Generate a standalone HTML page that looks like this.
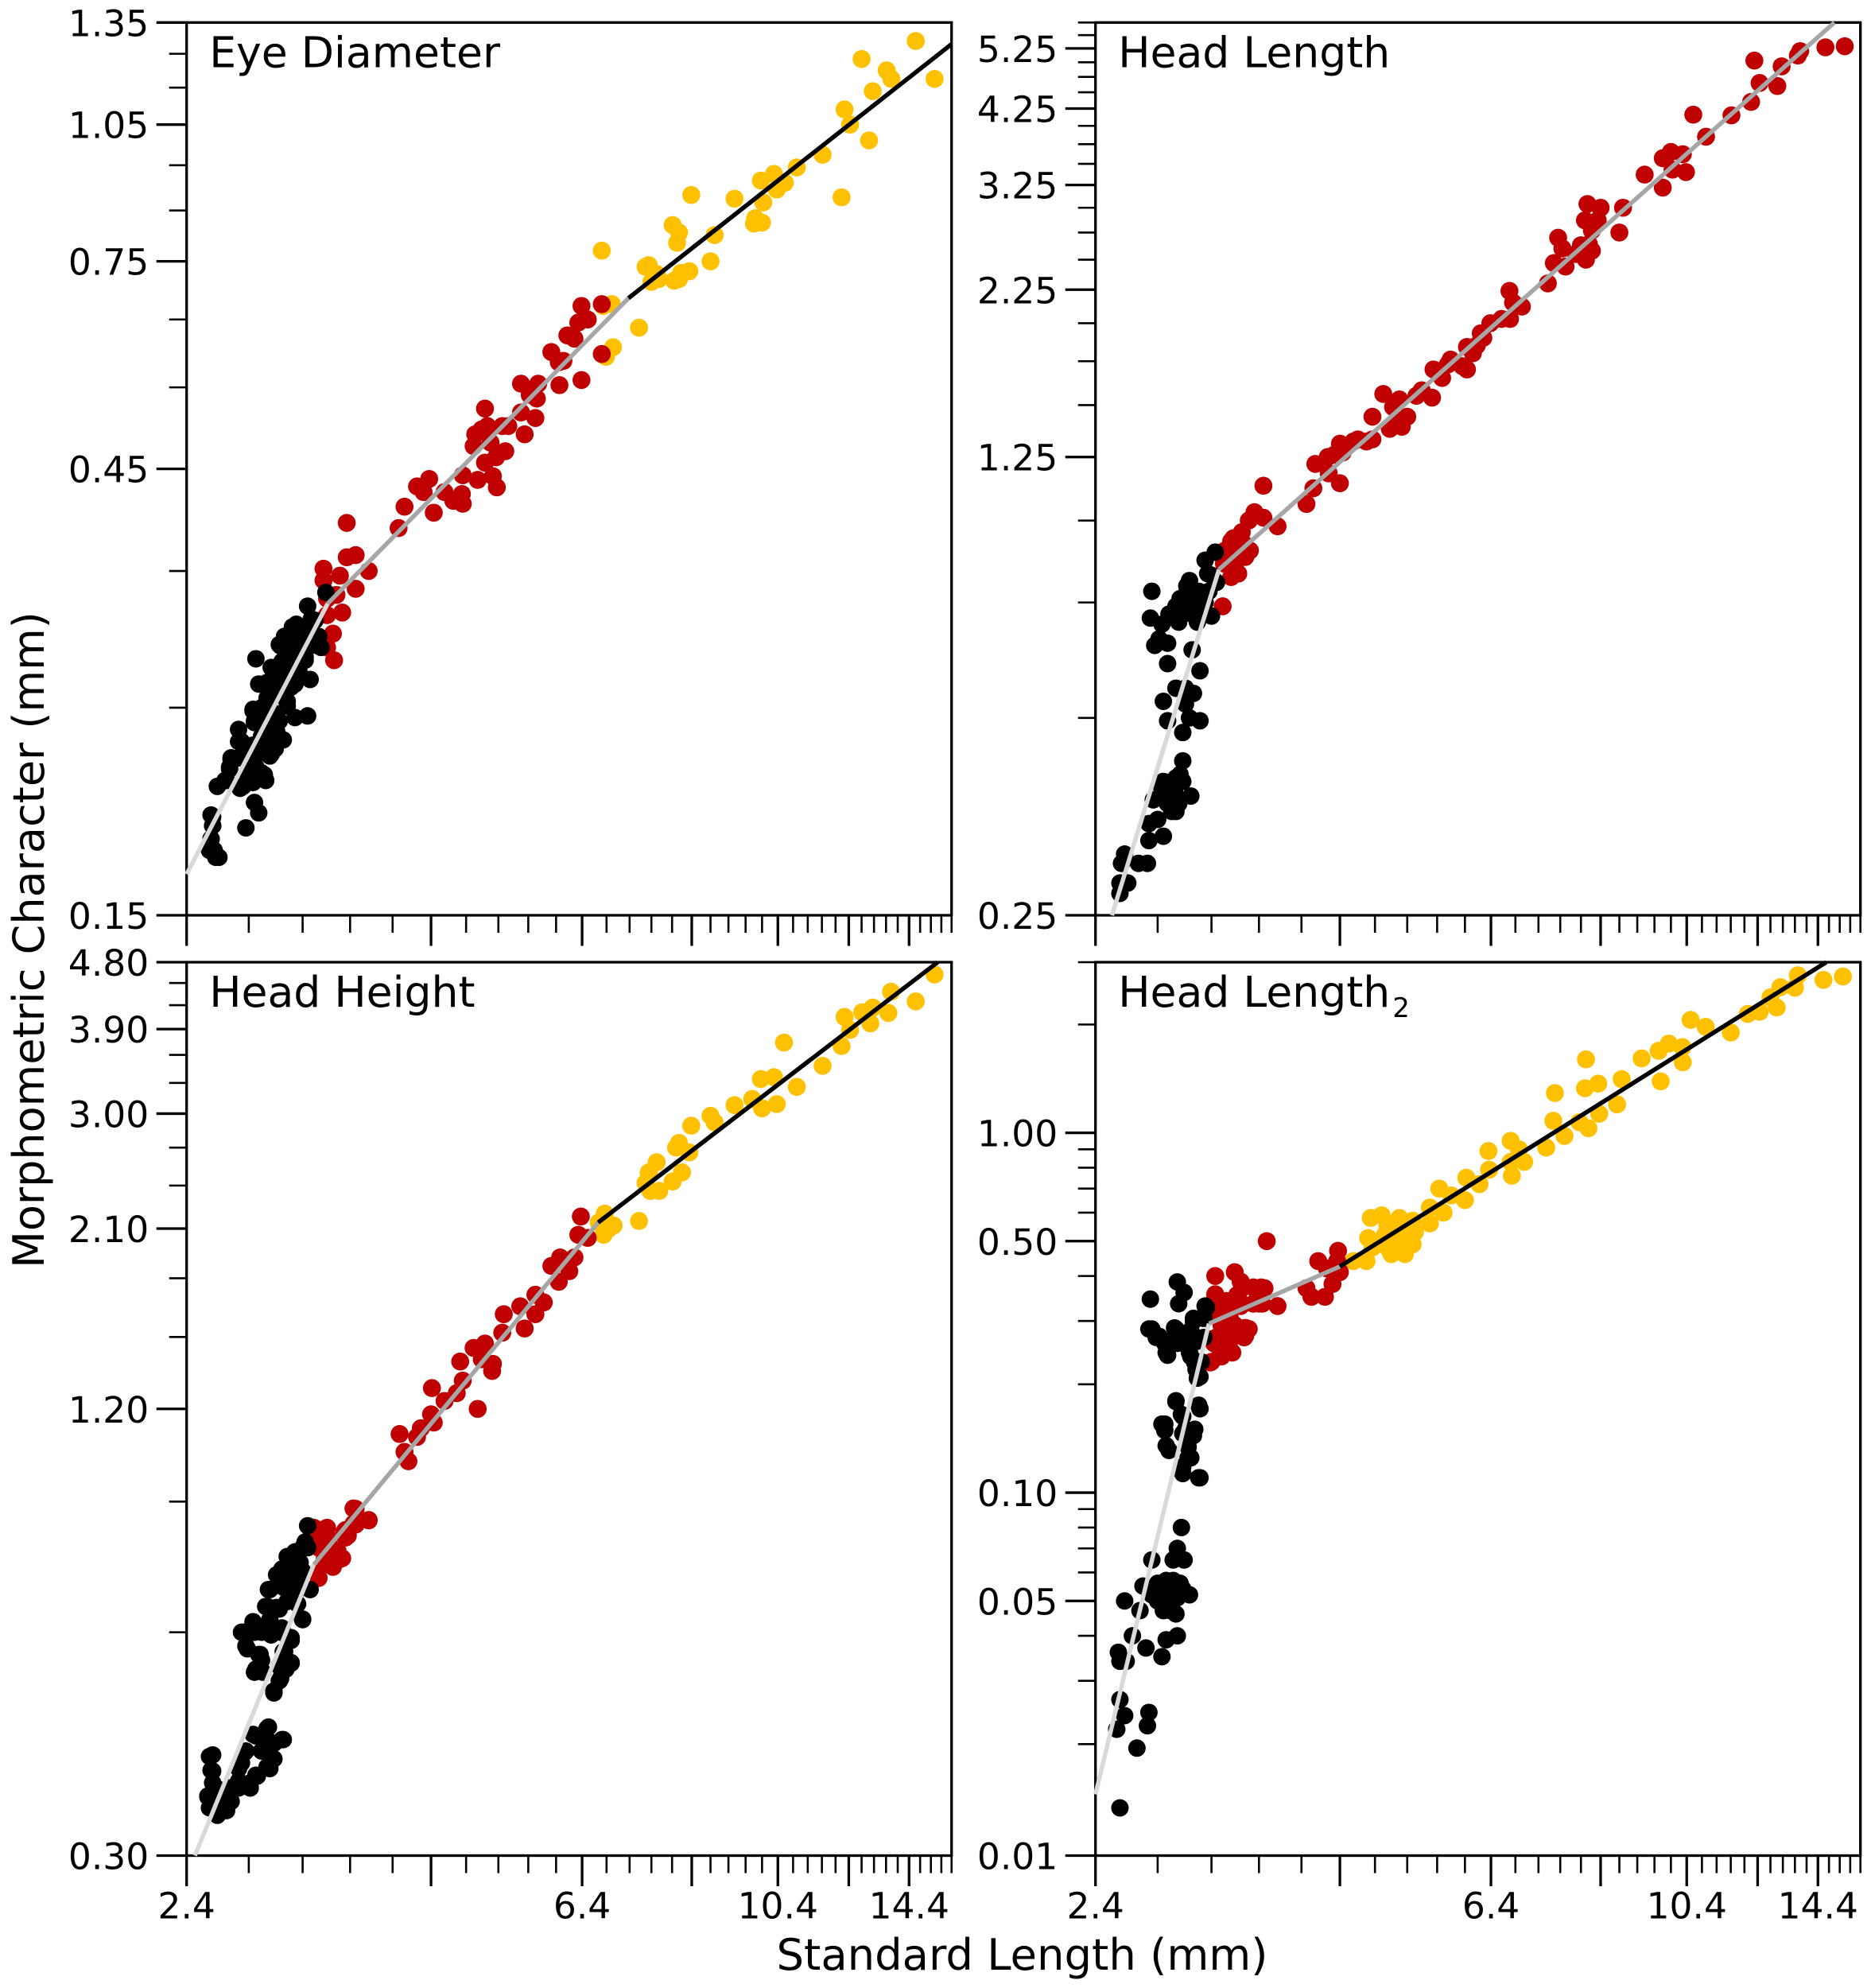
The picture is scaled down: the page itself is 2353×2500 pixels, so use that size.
<!DOCTYPE html>
<html lang="en">
<head>
<meta charset="utf-8">
<title>Morphometric Character vs Standard Length</title>
<style>
html,body{margin:0;padding:0;background:#fff;}
#chart{display:block;width:2353px;height:2500px;font-family:"DejaVu Sans","Liberation Sans",sans-serif;fill:#000;}
</style>
</head>
<body>
<svg id="chart" xmlns="http://www.w3.org/2000/svg" width="2353" height="2500" viewBox="0 0 2353 2500">
<rect x="0" y="0" width="2353" height="2500" fill="#fff"></rect>
<text x="1285.5" y="2477" font-size="54.4" text-anchor="middle">Standard Length (mm)</text>
<text transform="translate(55 1182) rotate(-90)" font-size="54" text-anchor="middle">Morphometric Character (mm)</text>
</svg>
<script>
/* ---- shared x axis ---- */
const xMajorTicks = [2.4,4.4,6.4,8.4,10.4,12.4,14.4];
const xMinorTicks = [2.8,3.2,3.6,4.0,4.8,5.2,5.6,6.0,6.8,7.2,7.6,8.0,8.8,9.2,9.6,10.0,10.8,11.2,11.6,12.0,12.8,13.2,13.6,14.0,14.8,15.2,15.6,16.0];
const xTickLabels = [2.4,6.4,10.4,14.4];

/* ---- Eye Diameter ---- */
const eyeYMajor = [0.15,0.45,0.75,1.05,1.35];
const eyeYMinor = [0.25,0.35,0.55,0.65,0.85,0.95,1.15,1.25];
const eyeYLabels = [0.15,0.45,0.75,1.05,1.35];
const eyeBlack = [[3.39,.332],[3.24,.321],[3.15,.307],[3.06,.298],[3.03,.291],[2.85,.282],[3.2,.296],[3.26,.291],[3.33,.291],[3.22,.281],[3.08,.279],[2.99,.272],[2.87,.265],[3.26,.268],[3.11,.263],[3.02,.258],[2.93,.255],[3.08,.251],[2.83,.249],[2.84,.241],[3.24,.245],[3.14,.244],[3.0,.243],[2.93,.24],[2.73,.237],[2.89,.233],[2.75,.23],[3.05,.231],[2.99,.226],[2.96,.223],[2.68,.22],[2.81,.219],[2.67,.215],[2.85,.216],[2.89,.213],[2.92,.209],[2.59,.206],[2.65,.209],[2.76,.206],[2.83,.208],[2.84,.198],[2.87,.193],[2.78,.186],[2.56,.191],[2.56,.187],[2.55,.181],[2.55,.176],[2.6,.173],[2.57,.176],[3.17,.274],[3.11,.30],[3.22,.305],[2.93,.266],[2.83,.228],[3.05,.268],[3.1,.287],[3.24,.30],[3.0,.236],[3.3,.31],[2.96,.276],[2.89,.25],[2.79,.213],[2.75,.222],[3.06,.298],[3.12,.305],[3.18,.303],[3.27,.311],[3.02,.292],[3.12,.295],[3.2,.292],[3.33,.298],[3.35,.29],[3.22,.283],[3.14,.285],[3.04,.28],[2.98,.274],[3.08,.274],[3.02,.267],[2.96,.263],[3.1,.263],[3.14,.265],[2.93,.256],[3.02,.258],[3.08,.254],[2.83,.248],[2.84,.242],[2.96,.248],[2.93,.242],[3.02,.242],[2.96,.233],[3.04,.231],[2.93,.226],[2.95,.222],[2.73,.23],[2.68,.221],[2.67,.216],[2.73,.221],[2.84,.221],[2.79,.212],[2.91,.212],[2.74,.205],[2.64,.209],[2.55,.192],[2.56,.187],[2.55,.181],[2.54,.176],[2.58,.173]];
const eyeRed = [[6.72,.675],[6.39,.672],[6.49,.65],[6.34,.645],[6.17,.625],[6.28,.62],[5.93,.60],[6.72,.597],[6.04,.585],[6.11,.587],[6.39,.56],[5.5,.555],[5.74,.555],[6.05,.553],[5.62,.54],[5.72,.535],[5.5,.517],[5.7,.51],[5.03,.522],[5.25,.50],[5.33,.50],[5.06,.50],[4.91,.49],[5.55,.49],[4.99,.496],[4.89,.476],[5.1,.48],[5.29,.47],[5.17,.463],[5.03,.457],[4.76,.443],[4.94,.438],[5.13,.442],[5.18,.43],[4.38,.439],[4.25,.431],[4.32,.425],[4.55,.425],[4.75,.423],[4.65,.416],[4.76,.413],[4.43,.404],[4.12,.41],[4.06,.389],[3.57,.394],[3.57,.362],[3.65,.364],[3.37,.352],[3.51,.346],[3.77,.35],[3.37,.342],[3.65,.335],[3.48,.33],[3.4,.327],[3.53,.316],[3.4,.314],[3.45,.30],[3.4,.29],[3.46,.281]];
const eyeYellow = [[14.64,1.29],[12.8,1.234],[13.62,1.20],[13.78,1.175],[15.34,1.175],[13.16,1.14],[12.27,1.09],[12.44,1.05],[13.04,1.01],[11.62,.975],[10.9,.945],[10.3,.93],[9.97,.915],[10.58,.91],[10.37,.895],[10.03,.867],[8.39,.883],[9.34,.875],[12.18,.878],[9.83,.834],[9.8,.823],[10.0,.825],[8.89,.80],[8.01,.82],[8.14,.805],[8.1,.785],[8.8,.75],[6.72,.77],[7.55,.743],[7.49,.74],[7.7,.727],[7.6,.713],[7.74,.718],[8.35,.732],[8.18,.729],[8.04,.715],[8.14,.718],[6.89,.675],[6.74,.672],[7.37,.637],[6.91,.607],[6.79,.593]];
const eyeFitLight = [[2.4,.166],[3.405,.323]];
const eyeFitGrey = [[3.405,.323],[7.18,.685]];
const eyeFitBlack = [[7.18,.685],[16,1.28]];

/* ---- Head Length ---- */
const hlYMajor = [0.25,1.25,2.25,3.25,4.25,5.25];
const hlYMinor = [0.5,0.75,1.0,1.5,1.75,2.0,2.5,2.75,3.0,3.5,3.75,4.0,4.5,4.75,5.0,5.5,5.75];
const hlYLabels = [0.25,1.25,2.25,3.25,4.25,5.25];
const hlBlack = [[3.23,.895],[3.15,.87],[3.03,.81],[3.01,.795],[3.2,.825],[3.24,.805],[2.96,.76],[2.93,.74],[3.0,.735],[3.11,.765],[3.15,.75],[3.2,.715],[3.09,.70],[2.95,.70],[2.76,.78],[2.75,.71],[2.83,.695],[2.81,.66],[2.78,.645],[2.87,.65],[3.05,.635],[2.87,.605],[3.11,.59],[2.93,.555],[3.0,.555],[3.06,.545],[2.84,.53],[3.0,.525],[2.87,.495],[3.03,.5],[3.11,.495],[2.98,.475],[2.98,.43],[2.84,.40],[2.93,.405],[2.98,.40],[3.04,.38],[2.77,.375],[2.89,.38],[2.93,.36],[2.87,.37],[2.8,.35],[2.74,.345],[2.84,.33],[2.74,.325],[2.73,.30],[2.67,.30],[2.58,.31],[2.56,.30],[2.55,.28],[2.6,.28],[2.55,.27],[2.88,.395],[2.92,.385],[2.95,.37],[2.9,.36],[2.83,.39],[2.96,.41],[3.17,.83],[3.1,.78],[3.05,.75],[3.12,.72],[3.18,.78],[3.0,.77],[2.88,.72],[3.05,.72]];
const hlRed = [[15.39,5.29],[14.67,5.27],[12.3,5.03],[13.78,5.2],[13.7,5.12],[13.16,4.93],[12.46,4.65],[13.02,4.6],[12.2,4.35],[10.57,4.16],[11.62,4.15],[10.91,3.85],[10.3,3.62],[10.0,3.65],[9.8,3.57],[10.38,3.4],[10.04,3.43],[9.8,3.22],[9.37,3.37],[8.88,3.0],[8.13,3.04],[8.4,3.0],[8.08,2.87],[8.34,2.87],[8.22,2.77],[8.8,2.75],[7.56,2.7],[7.64,2.6],[8.0,2.63],[8.22,2.58],[8.1,2.5],[7.48,2.47],[7.7,2.44],[7.37,2.3],[6.7,2.24],[6.76,2.15],[6.91,2.12],[6.71,2.03],[6.39,2.0],[6.24,1.93],[6.03,1.84],[6.18,1.85],[5.75,1.73],[6.03,1.7],[5.55,1.7],[5.67,1.65],[5.96,1.72],[5.32,1.55],[5.53,1.54],[4.9,1.56],[5.1,1.53],[4.77,1.44],[4.98,1.38],[5.13,1.39],[5.2,1.44],[4.77,1.33],[4.7,1.32],[4.55,1.32],[4.4,1.31],[4.43,1.27],[4.27,1.25],[4.14,1.22],[4.4,1.14],[4.28,1.18],[4.12,1.12],[4.05,1.06],[3.64,1.13],[3.56,1.03],[3.51,1.0],[3.64,1.01],[3.77,.98],[3.44,.95],[3.36,.93],[3.52,.9],[3.44,.88],[3.39,.855],[3.36,.82],[3.29,.74],[3.31,.9],[3.47,.92],[5.02,1.49],[5.09,1.44],[5.39,1.58],[5.79,1.76],[6.12,1.8],[6.28,1.9],[6.57,2.03],[8.16,2.64],[7.9,2.55],[4.34,1.26],[4.6,1.33],[3.35,.88],[3.4,.9],[3.45,.96],[3.38,.94],[3.48,.88],[3.42,.83],[3.3,.86]];
const hlFitLight = [[2.5,.25],[3.26,.842]];
const hlFitGrey = [[3.26,.842],[15.0,5.75]];

/* ---- Head Height ---- */
const hhYMajor = [0.30,1.20,2.10,3.00,3.90,4.80];
const hhYMinor = [0.6,0.9,1.5,1.8,2.4,2.7,3.3,3.6,4.2,4.5];
const hhYLabels = [0.30,1.20,2.10,3.00,3.90,4.80];
const hhBlack = [[3.24,.835],[3.24,.78],[3.14,.765],[3.07,.73],[3.03,.72],[3.11,.72],[3.2,.725],[2.94,.685],[3.26,.685],[3.05,.69],[3.17,.705],[2.92,.65],[3.02,.645],[3.2,.625],[2.83,.62],[2.76,.6],[2.89,.6],[2.96,.595],[3.03,.6],[3.11,.585],[2.79,.57],[2.87,.56],[2.89,.55],[3.05,.565],[3.11,.545],[3.07,.535],[2.85,.535],[2.9,.53],[3.03,.52],[2.98,.5],[3.05,.43],[2.93,.445],[2.85,.435],[2.98,.425],[2.89,.415],[2.98,.405],[2.78,.415],[2.93,.395],[2.85,.385],[2.75,.4],[2.81,.37],[2.73,.37],[2.56,.41],[2.56,.39],[2.67,.37],[2.57,.37],[2.55,.36],[2.54,.348],[2.61,.352],[2.68,.355],[2.59,.34],[2.65,.345],[2.53,.36],[3.08,.759],[3.14,.77],[3.2,.78],[3.22,.794],[3.04,.73],[3.12,.736],[3.18,.745],[3.08,.705],[3.14,.705],[3.2,.717],[3.0,.717],[3.16,.684],[3.08,.66],[3.16,.655],[2.95,.685],[2.93,.65],[3.0,.648],[3.2,.624],[2.95,.624],[2.83,.618],[2.75,.60],[2.84,.60],[2.95,.597],[3.04,.608],[3.11,.59],[2.78,.575],[2.88,.56],[3.06,.565],[3.11,.546],[2.84,.53],[3.02,.54],[3.02,.516],[2.98,.497],[2.94,.447],[2.83,.437],[3.04,.43],[2.93,.43],[2.77,.413],[2.96,.403],[2.95,.393],[2.86,.384],[2.73,.393],[2.73,.378],[2.81,.376],[2.54,.408],[2.55,.391],[2.56,.376],[2.53,.361],[2.66,.357],[2.58,.35],[2.59,.369]];
const hhRed = [[6.38,2.18],[6.34,2.06],[6.49,2.04],[6.28,1.92],[6.06,1.92],[5.93,1.87],[6.2,1.84],[6.04,1.78],[5.7,1.71],[5.82,1.67],[5.49,1.65],[5.27,1.61],[5.7,1.61],[5.55,1.54],[5.25,1.52],[5.03,1.47],[4.89,1.45],[4.99,1.4],[4.73,1.39],[5.13,1.38],[5.12,1.35],[4.76,1.31],[4.69,1.26],[4.41,1.28],[4.55,1.23],[4.94,1.2],[4.4,1.18],[4.43,1.15],[4.29,1.13],[4.07,1.11],[4.25,1.1],[4.12,1.05],[4.16,1.02],[3.65,.88],[3.77,.85],[3.63,.84],[3.55,.82],[3.4,.83],[3.29,.83],[3.58,.81],[3.37,.795],[3.49,.765],[3.44,.745],[3.53,.755],[3.32,.72],[3.33,.78],[3.42,.77],[3.29,.795],[3.35,.824],[3.4,.81],[3.56,.824],[3.63,.881],[3.77,.849],[3.56,.805],[3.49,.772],[3.51,.753],[3.45,.735],[3.33,.71],[3.38,.753],[3.42,.785],[3.65,.838],[3.31,.79]];
const hhYellow = [[15.34,4.62],[13.77,4.38],[14.64,4.25],[13.16,4.17],[12.82,4.11],[13.68,4.1],[12.27,4.05],[13.08,3.97],[12.44,3.89],[12.18,3.7],[10.56,3.74],[11.62,3.48],[9.97,3.34],[10.3,3.36],[10.9,3.26],[9.76,3.14],[10.0,3.05],[10.37,3.09],[9.34,3.08],[8.8,2.98],[8.89,2.92],[8.39,2.89],[8.14,2.74],[8.08,2.7],[8.35,2.66],[7.7,2.58],[7.55,2.5],[7.49,2.42],[8.2,2.5],[8.01,2.43],[7.58,2.36],[7.75,2.36],[7.37,2.15],[6.77,2.2],[6.67,2.14],[6.92,2.12],[6.84,2.1],[6.75,2.06]];
const hhFitLight = [[2.45,.30],[3.29,.74]];
const hhFitGrey = [[3.29,.74],[6.66,2.14]];
const hhFitBlack = [[6.66,2.14],[15.46,4.8]];

/* ---- Head Length 2 ---- */
const hl2YMajor = [0.0098,0.05,0.10,0.50,1.00];
const hl2YMinor = [0.02,0.03,0.04,0.06,0.07,0.08,0.09,0.2,0.3,0.4,0.6,0.7,0.8,0.9,2.0,2.98];
const hl2YLabels = [0.0098,0.05,0.10,0.50,1.00];
const hl2Black = [[2.94,.385],[2.99,.36],[2.75,.345],[2.95,.335],[3.15,.33],[3.06,.3],[2.74,.285],[2.93,.285],[2.79,.27],[2.94,.26],[3.05,.265],[2.85,.26],[2.86,.245],[3.03,.245],[3.14,.27],[3.07,.23],[3.11,.21],[2.93,.18],[3.1,.175],[2.97,.165],[2.83,.155],[3.0,.15],[3.07,.15],[2.86,.135],[3.02,.125],[2.98,.118],[3.1,.11],[2.97,.08],[2.94,.07],[2.76,.065],[2.91,.065],[2.99,.065],[2.7,.055],[2.78,.053],[2.86,.057],[2.96,.056],[3.03,.052],[2.81,.05],[2.89,.052],[2.93,.046],[2.84,.047],[2.58,.05],[2.68,.047],[2.63,.04],[2.94,.04],[2.86,.039],[2.72,.037],[2.54,.036],[2.55,.034],[2.59,.034],[2.83,.035],[2.55,.0266],[2.74,.0245],[2.58,.024],[2.73,.0225],[2.53,.022],[2.66,.0195],[2.55,.0133],[2.82,.052],[2.91,.057],[2.76,.052],[2.87,.049],[3.16,.327],[3.06,.305],[3.14,.305],[2.92,.287],[2.76,.285],[2.81,.272],[2.87,.263],[2.87,.241],[2.94,.263],[3.04,.283],[3.08,.263],[3.04,.239],[3.12,.231],[3.08,.22],[3.09,.208],[3.04,.27],[3.0,.27],[2.93,.179],[3.11,.171],[2.98,.163],[2.85,.155],[2.85,.149],[2.98,.146],[3.06,.144],[2.88,.131],[3.04,.125],[2.98,.113],[3.11,.11],[3.02,.134],[2.8,.056],[2.84,.055],[2.88,.056],[2.92,.055],[2.8,.05],[2.85,.051],[2.9,.05],[2.94,.051],[2.85,.048],[2.89,.047],[2.82,.054],[2.98,.054]];
const hl2Red = [[3.67,.5],[4.38,.47],[4.17,.44],[4.37,.44],[4.26,.42],[4.4,.41],[4.32,.38],[4.05,.37],[4.1,.35],[4.24,.35],[3.23,.4],[3.39,.41],[3.45,.37],[3.56,.37],[3.65,.37],[3.23,.35],[3.77,.33],[3.6,.335],[3.45,.335],[3.33,.335],[3.22,.32],[3.35,.305],[3.51,.285],[3.47,.27],[3.35,.28],[3.25,.265],[3.37,.245],[3.27,.24],[3.19,.23],[3.22,.26],[3.33,.255],[3.39,.28],[3.23,.356],[3.32,.341],[3.41,.354],[3.24,.324],[3.35,.319],[3.44,.33],[3.28,.292],[3.39,.292],[3.48,.287],[3.48,.273],[3.37,.27],[3.27,.251],[3.36,.247],[3.2,.231],[3.28,.239],[3.55,.372],[3.62,.372],[3.44,.386],[3.55,.335],[3.63,.335],[3.2,.267],[3.24,.27],[3.33,.263]];
const hl2Yellow = [[15.32,2.72],[14.6,2.66],[13.7,2.74],[13.12,2.54],[13.6,2.53],[12.8,2.38],[13.0,2.23],[12.46,2.17],[12.1,2.14],[10.5,2.06],[10.9,1.97],[11.6,1.9],[10.29,1.73],[9.95,1.77],[9.7,1.69],[10.3,1.57],[9.3,1.61],[9.75,1.39],[8.1,1.6],[8.85,1.41],[8.35,1.37],[8.08,1.33],[8.75,1.2],[8.37,1.13],[7.5,1.29],[8.15,1.03],[7.97,1.07],[7.47,1.08],[7.68,.98],[7.34,.91],[6.72,.95],[6.36,.89],[6.86,.9],[6.95,.83],[6.72,.83],[6.74,.76],[6.37,.79],[6.22,.72],[6.02,.75],[6.0,.65],[5.8,.67],[5.63,.7],[5.5,.62],[5.69,.6],[5.5,.56],[5.27,.57],[5.1,.58],[4.88,.59],[4.75,.58],[4.72,.51],[4.92,.52],[5.14,.52],[5.3,.53],[5.27,.49],[4.98,.47],[5.17,.46],[5.0,.46],[5.08,.49],[4.77,.48],[4.7,.44],[4.55,.44],[5.2,.5],[5.07,.51],[5.0,.5],[5.1,.47],[5.2,.48],[4.9,.49],[5.1,.53],[5.25,.52],[4.95,.55]];
const hl2FitLight = [[2.4,.0145],[3.18,.295]];
const hl2FitGrey = [[3.18,.295],[4.4,.425]];
const hl2FitBlack = [[4.4,.425],[14.7,2.98]];

const xMin = 2.4;
const xMax = 16;
const NS = 'http://www.w3.org/2000/svg';
const root = document.getElementById('chart');

function make(parent, tag, attrs) {
  const el = document.createElementNS(NS, tag);
  for (const key in attrs) el.setAttribute(key, attrs[key]);
  parent.appendChild(el);
  return el;
}

function drawPanel(cfg) {
  const sx = v => cfg.left + (Math.log(v / xMin) / Math.log(xMax / xMin)) * (cfg.right - cfg.left);
  const sy = v => cfg.bottom - (Math.log(v / cfg.yMin) / Math.log(cfg.yMax / cfg.yMin)) * (cfg.bottom - cfg.top);

  const g = make(root, 'g', {});
  
  

  const frame = make(g, 'rect', {x: cfg.left, y: cfg.top, width: cfg.right - cfg.left, height: cfg.bottom - cfg.top, fill: 'none', stroke: '#000', 'stroke-width': 3.3});
  
  

  xMajorTicks.forEach(v => {
    const t = make(g, 'line', {x1: sx(v), x2: sx(v), y1: cfg.bottom, y2: cfg.bottom + 38.5, stroke: '#000', 'stroke-width': 3.3});
    
    
  });
  xMinorTicks.forEach(v => {
    const t = make(g, 'line', {x1: sx(v), x2: sx(v), y1: cfg.bottom, y2: cfg.bottom + 22, stroke: '#000', 'stroke-width': 2.6});
    
    
  });
  cfg.yMajor.forEach(v => {
    const t = make(g, 'line', {x1: cfg.left - 38, x2: cfg.left, y1: sy(v), y2: sy(v), stroke: '#000', 'stroke-width': 3.3});
    
    
  });
  cfg.yMinor.forEach(v => {
    const t = make(g, 'line', {x1: cfg.left - 22, x2: cfg.left, y1: sy(v), y2: sy(v), stroke: '#000', 'stroke-width': 2.6});
    
    
  });
  cfg.yLabels.forEach(v => {
    const t = make(g, 'text', {x: cfg.left - 47.5, y: sy(v) + 17, 'font-size': 45.5, 'text-anchor': 'end'});
    t.textContent = v.toFixed(2);
    
    
  });
  if (cfg.showXLabels) {
    xTickLabels.forEach(v => {
      const t = make(g, 'text', {x: sx(v), y: cfg.bottom + 79, 'font-size': 45.5, 'text-anchor': 'middle'});
      t.textContent = v.toFixed(1);
      
      
    });
  }

  const title = make(g, 'text', {x: cfg.left + 28.5, y: cfg.top + 56, 'font-size': 53.6});
  title.textContent = cfg.title;
  
  
  if (cfg.titleSub) {
    const sub = make(title, 'tspan', {dy: 13, dx: 3, 'font-size': 34});
    sub.textContent = cfg.titleSub;
  }

  const groups = [[cfg.yellow, '#ffc000', 11.3, 'stage-3-point'], [cfg.red, '#c00000', 11.3, 'stage-2-point'], [cfg.black, '#000000', 11, 'stage-1-point']];
  groups.forEach(group => {
    (group[0] || []).forEach(p => {
      const c = make(g, 'circle', {cx: sx(p[0]), cy: sy(p[1]), r: group[2], fill: group[1]});
      
      
    });
  });

  const fits = [[cfg.fitLight, '#d9d9d9', 'fit-line-stage-1'], [cfg.fitGrey, '#a6a6a6', 'fit-line-stage-2'], [cfg.fitBlack, '#000000', 'fit-line-stage-3']];
  fits.forEach(fit => {
    if (!fit[0]) return;
    const l = make(g, 'line', {x1: sx(fit[0][0][0]), y1: sy(fit[0][0][1]), x2: sx(fit[0][1][0]), y2: sy(fit[0][1][1]), stroke: fit[1], 'stroke-width': 5.5});
    
    
  });
}

drawPanel({name: 'eye-diameter', title: 'Eye Diameter', left: 234.7, right: 1196.7, top: 28.3, bottom: 1151, yMin: 0.15, yMax: 1.35, yMajor: eyeYMajor, yMinor: eyeYMinor, yLabels: eyeYLabels, black: eyeBlack, red: eyeRed, yellow: eyeYellow, fitLight: eyeFitLight, fitGrey: eyeFitGrey, fitBlack: eyeFitBlack, showXLabels: false});
drawPanel({name: 'head-length', title: 'Head Length', left: 1377.7, right: 2339.7, top: 28.3, bottom: 1151, yMin: 0.25, yMax: 5.75, yMajor: hlYMajor, yMinor: hlYMinor, yLabels: hlYLabels, black: hlBlack, red: hlRed, fitLight: hlFitLight, fitGrey: hlFitGrey, showXLabels: false});
drawPanel({name: 'head-height', title: 'Head Height', left: 234.7, right: 1196.7, top: 1210, bottom: 2333.5, yMin: 0.30, yMax: 4.80, yMajor: hhYMajor, yMinor: hhYMinor, yLabels: hhYLabels, black: hhBlack, red: hhRed, yellow: hhYellow, fitLight: hhFitLight, fitGrey: hhFitGrey, fitBlack: hhFitBlack, showXLabels: true});
drawPanel({name: 'head-length-2', title: 'Head Length', titleSub: '2', left: 1377.7, right: 2339.7, top: 1210, bottom: 2333.5, yMin: 0.0098, yMax: 2.98, yMajor: hl2YMajor, yMinor: hl2YMinor, yLabels: hl2YLabels, black: hl2Black, red: hl2Red, yellow: hl2Yellow, fitLight: hl2FitLight, fitGrey: hl2FitGrey, fitBlack: hl2FitBlack, showXLabels: true});
</script>
</body>
</html>
